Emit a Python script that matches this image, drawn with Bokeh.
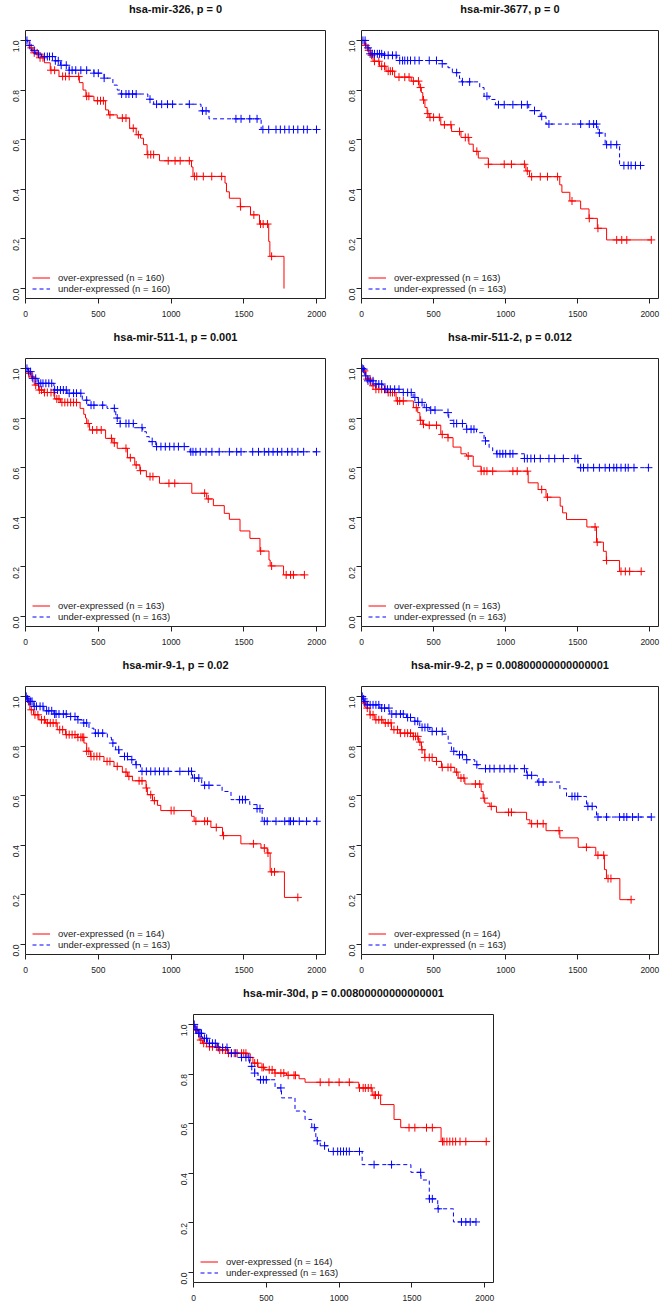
import math
import numpy as np
from bokeh.plotting import figure
from bokeh.models import Range1d, FixedTicker, Legend, LegendItem, Title, PrintfTickFormatter
from bokeh.layouts import column, row
from bokeh.embed import file_html
from bokeh.resources import INLINE

FONT = "Liberation Sans"

titles = [
    "hsa-mir-326, p = 0",
    "hsa-mir-3677, p = 0",
    "hsa-mir-511-1, p = 0.001",
    "hsa-mir-511-2, p = 0.012",
    "hsa-mir-9-1, p = 0.02",
    "hsa-mir-9-2, p = 0.00800000000000001",
    "hsa-mir-30d, p = 0.00800000000000001",
]
n_over = [160, 163, 163, 163, 164, 164, 164]
n_under = [160, 163, 163, 163, 163, 163, 163]

x_ticks = [0, 500, 1000, 1500, 2000]
y_ticks = [0.0, 0.2, 0.4, 0.6, 0.8, 1.0]

# ---- panel 1: hsa-mir-326 ----
p1_over_t = [0, 25, 50, 90, 130, 170, 230, 370, 395, 415, 470, 550, 570, 630, 715, 760, 790, 810, 835, 920,
             1140, 1150, 1370, 1380, 1400, 1475, 1545, 1607, 1670, 1678, 1775]
p1_over_s = [1.0, 0.97, 0.95, 0.93, 0.91, 0.88, 0.855, 0.83, 0.80, 0.775, 0.757, 0.72, 0.70, 0.687, 0.646, 0.62,
             0.606, 0.58, 0.54, 0.515, 0.49, 0.452, 0.425, 0.39, 0.364, 0.33, 0.297, 0.26, 0.19, 0.13, 0.0]
p1_over_c = [40, 60, 80, 100, 120, 175, 200, 255, 275, 300, 365, 420, 435, 495, 515, 535, 580, 665, 690, 740,
             775, 840, 860, 880, 980, 1027, 1062, 1125, 1160, 1176, 1221, 1279, 1347, 1477, 1568, 1614, 1632,
             1662, 1690]
p1_under_t = [0, 15, 40, 70, 110, 200, 240, 300, 470, 540, 600, 630, 650, 840, 880, 1205, 1260, 1618]
p1_under_s = [1.0, 0.98, 0.96, 0.945, 0.935, 0.918, 0.90, 0.88, 0.868, 0.848, 0.82, 0.80, 0.784, 0.763, 0.743,
              0.716, 0.684, 0.641]
p1_under_c = [10, 30, 60, 90, 130, 150, 165, 185, 205, 225, 245, 280, 300, 320, 345, 380, 420, 470, 500, 540,
              660, 690, 710, 735, 760, 855, 900, 935, 975, 1010, 1125, 1215, 1240, 1445, 1480, 1540, 1590, 1630,
              1670, 1720, 1750, 1780, 1810, 1840, 1870, 1910, 1935, 1998]

# ---- panel 2: hsa-mir-3677 ----
p2_over_t = [0, 20, 40, 60, 80, 125, 170, 230, 345, 400, 415, 425, 440, 455, 470, 550, 625, 690, 745, 775, 810,
             880, 1140, 1165, 1375, 1390, 1445, 1520, 1578, 1636, 1700]
p2_over_s = [1.0, 0.98, 0.96, 0.94, 0.916, 0.896, 0.876, 0.852, 0.836, 0.81, 0.79, 0.76, 0.73, 0.705, 0.69, 0.66,
             0.633, 0.609, 0.582, 0.553, 0.526, 0.501, 0.474, 0.451, 0.418, 0.388, 0.353, 0.321, 0.283, 0.243,
             0.196]
p2_over_c = [30, 50, 70, 90, 120, 140, 160, 185, 200, 215, 260, 300, 330, 360, 395, 410, 430, 460, 475, 500, 540,
             575, 620, 680, 720, 740, 800, 880, 990, 1040, 1130, 1150, 1180, 1240, 1290, 1360, 1460, 1580, 1640,
             1770, 1805, 1840, 2010]
p2_under_t = [0, 30, 60, 150, 245, 560, 600, 630, 680, 695, 820, 850, 885, 930, 1160, 1240, 1280, 1640, 1690,
              1790]
p2_under_s = [1.0, 0.97, 0.946, 0.94, 0.919, 0.906, 0.89, 0.87, 0.846, 0.833, 0.81, 0.775, 0.762, 0.741, 0.717,
              0.694, 0.663, 0.627, 0.58, 0.496]
p2_under_c = [10, 25, 45, 60, 75, 90, 110, 125, 140, 160, 185, 215, 240, 265, 285, 300, 320, 340, 370, 400, 470,
              520, 560, 660, 700, 750, 870, 950, 990, 1050, 1110, 1150, 1200, 1250, 1300, 1520, 1580, 1610, 1630,
              1650, 1700, 1730, 1770, 1820, 1850, 1870, 1900, 1935]

# ---- panel 3: hsa-mir-511-1 ----
p3_over_t = [0, 20, 40, 60, 90, 125, 200, 240, 375, 400, 412, 420, 440, 550, 600, 630, 700, 750, 785, 830, 920,
             1142, 1244, 1290, 1365, 1400, 1473, 1541, 1610, 1672, 1680, 1772]
p3_over_s = [1.0, 0.98, 0.966, 0.933, 0.913, 0.903, 0.877, 0.863, 0.839, 0.815, 0.8, 0.778, 0.752, 0.718, 0.70,
             0.678, 0.64, 0.611, 0.588, 0.564, 0.537, 0.497, 0.474, 0.447, 0.416, 0.392, 0.345, 0.315, 0.264,
             0.228, 0.204, 0.168]
p3_over_c = [25, 45, 70, 95, 110, 130, 150, 175, 195, 215, 230, 250, 270, 290, 310, 330, 350, 430, 460, 490, 520,
             590, 610, 690, 720, 760, 790, 855, 875, 985, 1025, 1230, 1255, 1615, 1690, 1790, 1820, 1840, 1915]
p3_under_t = [0, 15, 45, 80, 195, 285, 390, 430, 560, 620, 650, 742, 805, 830, 850, 895, 1130]
p3_under_s = [1.0, 0.987, 0.96, 0.94, 0.913, 0.90, 0.872, 0.852, 0.839, 0.80, 0.778, 0.761, 0.745, 0.725, 0.705,
              0.685, 0.664]
p3_under_c = [10, 20, 35, 50, 70, 90, 105, 120, 140, 160, 180, 200, 220, 240, 260, 280, 300, 330, 350, 380, 420,
              450, 470, 530, 610, 630, 650, 690, 710, 740, 800, 870, 900, 930, 960, 990, 1020, 1050, 1090, 1135,
              1150, 1170, 1200, 1240, 1280, 1330, 1400, 1450, 1480, 1560, 1600, 1640, 1670, 1700, 1730, 1760,
              1800, 1830, 1870, 1910, 1998]

# ---- panel 4: hsa-mir-511-2 ----
p4_over_t = [0, 15, 30, 65, 100, 170, 240, 360, 390, 405, 425, 445, 550, 600, 635, 690, 728, 775, 830, 1156,
             1225, 1280, 1378, 1395, 1422, 1563, 1630, 1678, 1698, 1790]
p4_over_s = [1.0, 0.99, 0.957, 0.93, 0.916, 0.903, 0.869, 0.842, 0.822, 0.791, 0.775, 0.771, 0.734, 0.721, 0.683,
             0.656, 0.647, 0.606, 0.586, 0.539, 0.512, 0.481, 0.445, 0.418, 0.391, 0.361, 0.30, 0.263, 0.226,
             0.182]
p4_over_c = [20, 40, 60, 80, 100, 120, 140, 165, 185, 200, 215, 230, 250, 265, 290, 380, 410, 430, 470, 520, 560,
             600, 740, 830, 850, 870, 910, 1050, 1080, 1150, 1250, 1290, 1620, 1635, 1700, 1800, 1830, 1860, 1940]
p4_under_t = [0, 10, 25, 45, 92, 150, 266, 358, 393, 435, 474, 570, 605, 636, 728, 798, 850, 885, 910, 936, 1130,
              1503]
p4_under_s = [1.0, 0.997, 0.97, 0.95, 0.937, 0.916, 0.903, 0.883, 0.863, 0.842, 0.832, 0.822, 0.791, 0.778, 0.755,
              0.741, 0.708, 0.681, 0.667, 0.656, 0.637, 0.60]
p4_under_c = [5, 15, 30, 45, 60, 80, 100, 120, 140, 160, 180, 200, 230, 260, 290, 320, 345, 370, 395, 420, 450,
              480, 510, 600, 640, 660, 700, 730, 760, 780, 860, 940, 960, 980, 1000, 1030, 1050, 1130, 1150, 1175,
              1200, 1240, 1300, 1340, 1400, 1480, 1500, 1520, 1540, 1570, 1610, 1650, 1690, 1720, 1750, 1770,
              1800, 1830, 1850, 1890, 1990]

# ---- panel 5: hsa-mir-9-1 ----
p5_over_t = [0, 12, 30, 55, 92, 138, 218, 275, 356, 401, 420, 447, 539, 608, 665, 700, 734, 828, 837, 872, 906,
             929, 1140, 1158, 1273, 1353, 1479, 1617, 1660, 1680, 1778]
p5_over_s = [1.0, 0.98, 0.946, 0.926, 0.906, 0.893, 0.866, 0.846, 0.835, 0.812, 0.779, 0.758, 0.738, 0.718, 0.695,
             0.678, 0.66, 0.631, 0.604, 0.58, 0.561, 0.54, 0.517, 0.497, 0.472, 0.439, 0.406, 0.389, 0.369,
             0.293, 0.19]
p5_over_c = [20, 40, 65, 85, 110, 130, 150, 170, 190, 210, 235, 255, 280, 300, 320, 340, 360, 380, 390, 400, 420,
             435, 450, 470, 490, 510, 560, 580, 630, 690, 710, 780, 800, 830, 860, 885, 1000, 1020, 1170, 1230,
             1250, 1310, 1360, 1565, 1640, 1665, 1690, 1710, 1870]
p5_under_t = [0, 10, 20, 57, 126, 195, 287, 356, 390, 436, 470, 562, 590, 619, 642, 722, 757, 790, 1147, 1210,
              1350, 1411, 1540, 1590, 1625]
p5_under_s = [1.0, 0.99, 0.98, 0.96, 0.942, 0.929, 0.919, 0.906, 0.893, 0.872, 0.852, 0.835, 0.812, 0.785, 0.758,
              0.745, 0.725, 0.698, 0.671, 0.642, 0.617, 0.584, 0.564, 0.548, 0.497]
p5_under_c = [5, 15, 25, 35, 45, 60, 75, 100, 120, 145, 160, 180, 200, 210, 230, 260, 280, 310, 340, 360, 400,
              420, 480, 500, 530, 600, 640, 680, 700, 730, 760, 800, 830, 860, 890, 920, 950, 980, 1060, 1120,
              1140, 1160, 1190, 1230, 1260, 1470, 1490, 1510, 1590, 1610, 1640, 1660, 1720, 1780, 1810, 1820,
              1840, 1880, 1930, 2000]

# ---- panel 6: hsa-mir-9-2 ----
p6_over_t = [0, 12, 30, 58, 92, 150, 208, 266, 358, 395, 416, 439, 520, 555, 647, 670, 717, 830, 844, 855, 890,
             936, 1145, 1168, 1280, 1376, 1503, 1625, 1685, 1699, 1792]
p6_over_s = [1.0, 0.973, 0.953, 0.926, 0.906, 0.893, 0.866, 0.852, 0.839, 0.816, 0.785, 0.754, 0.738, 0.714,
             0.695, 0.671, 0.647, 0.617, 0.59, 0.57, 0.557, 0.533, 0.503, 0.487, 0.459, 0.43, 0.392, 0.36, 0.302,
             0.266, 0.181]
p6_over_c = [20, 40, 60, 80, 100, 120, 140, 165, 185, 205, 225, 250, 270, 300, 320, 340, 360, 375, 390, 405, 420,
             440, 470, 490, 520, 560, 600, 620, 660, 690, 710, 790, 820, 850, 900, 1020, 1040, 1180, 1220, 1260,
             1370, 1560, 1640, 1680, 1710, 1730, 1870]
p6_under_t = [0, 10, 20, 35, 127, 196, 312, 370, 404, 474, 566, 601, 624, 659, 728, 786, 809, 1145, 1220, 1376,
              1422, 1561, 1630]
p6_under_s = [1.0, 0.99, 0.98, 0.966, 0.953, 0.929, 0.915, 0.9, 0.875, 0.859, 0.848, 0.812, 0.779, 0.765, 0.745,
              0.725, 0.709, 0.682, 0.655, 0.628, 0.597, 0.557, 0.514]
p6_under_c = [5, 15, 25, 40, 60, 80, 100, 120, 140, 160, 190, 210, 240, 270, 290, 320, 340, 370, 390, 420, 440,
              460, 490, 520, 560, 640, 680, 700, 730, 800, 860, 890, 920, 960, 990, 1030, 1060, 1130, 1150, 1180,
              1230, 1260, 1460, 1480, 1500, 1570, 1600, 1640, 1700, 1790, 1820, 1840, 1880, 1920, 2010]

# ---- panel 7: hsa-mir-30d ----
p7_over_t = [0, 5, 39, 62, 108, 178, 235, 374, 408, 443, 489, 558, 639, 725, 766, 1135, 1227, 1285, 1377, 1423,
             1700]
p7_over_s = [1.0, 0.977, 0.937, 0.924, 0.91, 0.897, 0.884, 0.867, 0.844, 0.827, 0.817, 0.804, 0.795, 0.781, 0.767,
             0.744, 0.715, 0.677, 0.617, 0.584, 0.528]
p7_over_c = [20, 50, 70, 90, 110, 130, 160, 180, 200, 220, 240, 260, 280, 300, 330, 345, 360, 390, 420, 440, 470,
             480, 520, 540, 560, 600, 620, 650, 690, 700, 870, 930, 1000, 1070, 1140, 1165, 1180, 1200, 1220,
             1240, 1250, 1270, 1480, 1520, 1600, 1640, 1710, 1720, 1740, 1760, 1780, 1800, 1830, 1870, 2010]
p7_under_t = [0, 10, 28, 62, 97, 166, 235, 328, 385, 420, 443, 560, 604, 697, 766, 812, 840, 848, 870, 927, 1158,
              1493, 1562, 1619, 1677, 1785]
p7_under_s = [1.0, 0.98, 0.964, 0.944, 0.924, 0.907, 0.884, 0.867, 0.831, 0.804, 0.777, 0.744, 0.704, 0.651,
              0.617, 0.584, 0.544, 0.531, 0.511, 0.488, 0.435, 0.404, 0.373, 0.297, 0.257, 0.204]
p7_under_c = [5, 15, 25, 35, 45, 55, 75, 90, 110, 130, 150, 170, 200, 230, 260, 290, 330, 360, 380, 400, 420,
              460, 480, 500, 600, 830, 850, 900, 960, 990, 1010, 1030, 1050, 1070, 1140, 1240, 1360, 1560, 1620,
              1640, 1680, 1840, 1870, 1900, 1940]

panels = [
    (p1_over_t, p1_over_s, p1_over_c, p1_under_t, p1_under_s, p1_under_c),
    (p2_over_t, p2_over_s, p2_over_c, p2_under_t, p2_under_s, p2_under_c),
    (p3_over_t, p3_over_s, p3_over_c, p3_under_t, p3_under_s, p3_under_c),
    (p4_over_t, p4_over_s, p4_over_c, p4_under_t, p4_under_s, p4_under_c),
    (p5_over_t, p5_over_s, p5_over_c, p5_under_t, p5_under_s, p5_under_c),
    (p6_over_t, p6_over_s, p6_over_c, p6_under_t, p6_under_s, p6_under_c),
    (p7_over_t, p7_over_s, p7_over_c, p7_under_t, p7_under_s, p7_under_c),
]

XMAX = 2060
FH = 268
TOP = 30
RED = "#ff0000"
BLUE = "#0000ff"
INK = "#222222"


def curve(p, t, s, c, color, dash):
    t = np.asarray(t, float)
    s = np.asarray(s, float)
    c = np.asarray(c, float)
    end = max(t[-1], c.max())
    xs = np.append(t, end)
    ys = np.append(s, s[-1])
    r = p.step(x=xs, y=ys, mode="after", line_color=color, line_width=1, line_dash=dash)
    idx = np.searchsorted(t, c, side="right") - 1
    p.scatter(x=c, y=s[idx], marker="cross", size=8, line_color=color, line_width=1)
    return r


def make_panel(i, fw, left, right, bottom):
    p = figure(frame_width=fw, frame_height=FH, x_range=Range1d(0, XMAX), y_range=Range1d(-0.04, 1.04),
               output_backend="svg", toolbar_location=None,
               min_border_left=left, min_border_right=right, min_border_top=TOP, min_border_bottom=bottom,
               background_fill_color="white", border_fill_color="white")
    p.outline_line_color = INK
    p.outline_line_width = 1
    p.grid.visible = False
    for ax in (p.xaxis[0], p.yaxis[0]):
        ax.axis_line_color = None
        ax.major_tick_out = 5
        ax.major_tick_in = 0
        ax.minor_tick_out = 0
        ax.minor_tick_in = 0
        ax.major_tick_line_color = INK
        ax.major_label_text_font = FONT
        ax.major_label_text_font_size = "8.5px"
        ax.major_label_text_color = INK
    p.xaxis.ticker = FixedTicker(ticks=x_ticks)
    p.xaxis.major_label_standoff = 7
    p.yaxis.ticker = FixedTicker(ticks=y_ticks)
    p.yaxis.formatter = PrintfTickFormatter(format="%.1f")
    p.yaxis.major_label_orientation = math.pi / 2
    p.yaxis.major_label_standoff = 4

    ot, os_, oc, ut, us, uc = panels[i]
    r_over = curve(p, ot, os_, oc, RED, "solid")
    r_under = curve(p, ut, us, uc, BLUE, "4 3")

    legend = Legend(items=[LegendItem(label=f"over-expressed (n = {n_over[i]})", renderers=[r_over]),
                           LegendItem(label=f"under-expressed (n = {n_under[i]})", renderers=[r_under])],
                    location=(7, 4), orientation="vertical", border_line_color=None,
                    background_fill_alpha=0, padding=0, margin=0, spacing=0,
                    glyph_width=18, glyph_height=11, label_height=11, label_standoff=8,
                    label_text_font=FONT, label_text_font_size="9.5px", label_text_color=INK)
    p.add_layout(legend)

    # gap between the title and the plot box
    p.add_layout(Title(text=" ", text_font_size="12px", standoff=0), "above")
    p.title.text = titles[i]
    p.title.align = "center"
    p.title.text_font = FONT
    p.title.text_font_size = "11px"
    p.title.text_font_style = "bold"
    p.title.text_color = "#111111"
    p.title.standoff = 0
    return p


figs = []
for i in range(7):
    if i == 6:
        figs.append(make_panel(i, 300, 193, 5, 24))
    elif i % 2 == 0:
        figs.append(make_panel(i, 300, 25, 8, 30))
    else:
        figs.append(make_panel(i, 297, 28, 7, 30))

layout = column(row(figs[0], figs[1]), row(figs[2], figs[3]), row(figs[4], figs[5]), figs[6])

open("out.html", "w").write(file_html(layout, INLINE))
